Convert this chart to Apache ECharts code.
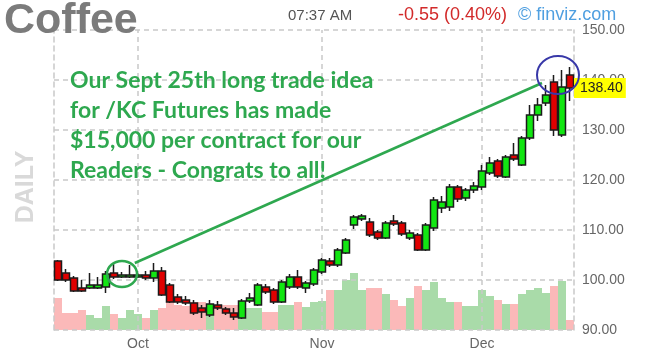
<!DOCTYPE html>
<html><head><meta charset="utf-8">
<script src="https://cdn.jsdelivr.net/npm/echarts@6/dist/echarts.min.js"></script>
<style>html,body{margin:0;padding:0;background:#fff}#c{width:646px;height:356px}</style>
</head><body><div id="c"></div>
<script>
const dates = ['9/17','9/18','9/19','9/20','9/23','9/24','9/25','9/26','9/27','9/30',
  '10/1','10/2','10/3','10/4','10/7','10/8','10/9','10/10','10/11','10/14','10/15','10/16','10/17','10/18',
  '10/21','10/22','10/23','10/24','10/25','10/28','10/29','10/30','10/31',
  '11/1','11/4','11/5','11/6','11/7','11/8','11/11','11/12','11/13','11/14','11/15','11/18','11/19','11/20',
  '11/21','11/22','11/25','11/26','11/27','11/29',
  '12/2','12/3','12/4','12/5','12/6','12/9','12/10','12/11','12/12','12/13','12/16','12/17'];
const open  = [103.8,101.4,100.4,98.4,98.4,98.4,98.6,101.4,100.6,100.6,
  100.6,101.0,100.4,101.8,99.0,96.6,96.0,95.4,94.4,93.0,95.0,94.2,93.4,92.4,
  95.8,95.0,98.6,98.0,95.6,98.6,100.6,98.4,99.2,
  101.6,103.8,103.0,105.4,111.0,112.2,111.6,109.6,108.4,111.8,111.4,108.4,109.0,106.0,
  110.4,114.4,114.6,118.6,116.4,118.0,
  118.6,121.4,123.8,120.6,125.0,123.0,128.4,133.0,135.4,139.6,129.0,141.0];
const close = [100.0,100.0,97.8,97.8,99.0,99.0,101.2,100.6,101.0,101.0,
  101.0,100.4,101.8,97.0,95.6,95.6,95.4,93.4,93.6,95.2,94.4,93.4,92.6,95.8,
  96.4,99.0,97.6,95.6,99.6,100.6,98.6,99.4,102.0,
  104.0,103.0,106.0,108.0,112.6,112.8,109.0,108.4,111.4,111.2,109.2,109.4,106.0,111.0,
  116.0,115.6,118.6,116.2,118.0,118.8,
  121.8,123.4,120.8,124.6,124.2,128.4,133.0,135.0,137.0,130.0,138.6,138.4];
const low   = [99.8,99.6,97.6,97.6,98.2,98.2,97.4,100.2,100.4,100.4,
  100.4,100.0,99.6,96.8,95.4,95.2,95.0,93.0,92.4,92.6,94.0,93.0,92.0,92.2,
  95.4,94.8,97.2,95.2,95.4,98.2,98.2,97.4,98.8,
  101.2,102.6,102.6,105.2,110.2,111.8,108.6,108.0,108.2,110.8,108.8,108.0,105.8,105.8,
  109.8,113.4,113.8,115.6,115.8,117.4,
  118.0,121.0,120.4,120.4,123.8,122.8,128.0,131.8,134.8,128.8,128.6,135.8];
const high  = [104.0,102.2,100.8,100.0,101.4,100.6,101.8,103.4,101.6,103.0,
  101.4,101.8,103.4,102.6,99.4,97.2,96.8,96.0,95.0,96.0,95.8,94.6,94.4,96.2,
  97.4,99.4,99.2,98.4,100.0,101.2,102.0,99.8,102.4,
  104.4,104.4,106.4,108.4,113.0,113.2,112.4,110.0,111.8,113.0,111.8,110.0,109.4,111.4,
  116.6,116.8,119.2,119.0,118.4,119.6,
  123.0,124.6,124.2,125.0,127.4,128.8,135.0,136.4,139.0,141.0,142.0,142.6];
const volume = [32,17,17,20,15,12,24,16,12,20,
  16,12,20,22,28,25,24,28,28,17,25,25,25,22,
  22,22,18,18,25,25,28,23,28,
  29,40,40,50,57,40,42,42,36,30,24,32,44,40,
  48,32,28,28,24,24,
  40,34,30,26,26,36,40,42,37,44,49,10];
const yTicks = [90, 150, 10];            // min, max, step
const monthDates = ['10/1','11/1','12/2'];
const monthLabels = ['Oct','Nov','Dec'];
const lastPrice = 138.40;
const noteLines = ['Our Sept 25th long trade idea','for /KC Futures has made','$15,000 per contract for our','Readers - Congrats to all!'];
// annotation anchors in data units [category index, price]
const greenCircleAt = [8, 101.2];
const blueCircleAt = [62.5, 141.0];
const arrowFrom = [9.6, 103.4];
const arrowTo = [60.5, 139.4];

const chart = echarts.init(document.getElementById('c'));
const grid = '#c9c9c9';
const UP = '#12e612', DOWN = '#e00000';
chart.setOption({
  animation: false,
  backgroundColor: '#fff',
  grid: { left: 54, right: 72, top: 30, bottom: 26 },
  xAxis: {
    type: 'category', data: dates, boundaryGap: true,
    axisLine: { show: false }, axisTick: { show: false }, splitLine: { show: false },
    axisLabel: {
      interval: (i, v) => monthDates.indexOf(v) >= 0,
      formatter: v => monthLabels[monthDates.indexOf(v)] || '',
      color: '#666', fontSize: 14, fontFamily: 'Liberation Sans', margin: 7
    }
  },
  yAxis: [
    { type: 'value', position: 'right', min: yTicks[0], max: yTicks[1], interval: yTicks[2], z: 3,
      axisLine: { show: true, lineStyle: { color: grid, type: [5, 4], width: 1.5 } },
      axisTick: { show: false },
      axisLabel: { formatter: v => v.toFixed(2), color: '#666', fontSize: 14, fontFamily: 'Liberation Sans', margin: 8 },
      splitLine: { show: true, lineStyle: { color: grid, type: [5, 4], width: 1.5 } } },
    { type: 'value', position: 'left', min: yTicks[0], max: yTicks[1], z: 3,
      axisLine: { show: true, lineStyle: { color: grid, type: [5, 4], width: 1.5 } },
      axisTick: { show: false }, axisLabel: { show: false }, splitLine: { show: false } },
    { type: 'value', min: 0, max: 300, show: false }
  ],
  series: [
    { type: 'bar', yAxisIndex: 2, z: 1, barCategoryGap: '0%', silent: true,
      data: volume.map((v, i) => ({ value: v, itemStyle: { color: close[i] >= open[i] ? '#a9dba9' : '#fbb9b9' } })),
      markLine: { silent: true, z: 2, symbol: ['none', 'none'], label: { show: false },
        lineStyle: { color: grid, type: [5, 4], width: 1.5 },
        data: monthDates.map(d => ({ xAxis: d })) } },
    { type: 'candlestick', yAxisIndex: 0, z: 6, barWidth: 7,
      data: dates.map((d, i) => [open[i], close[i], low[i], high[i]]),
      itemStyle: { color: UP, color0: DOWN, borderColor: '#1b1b1b', borderColor0: '#1b1b1b', borderWidth: 1.5 },
      markLine: { silent: true, z: 9, symbol: ['none', 'none'],
        lineStyle: { color: 'rgba(0,0,0,0)', width: 1, type: 'solid' },
        label: { show: true, position: 'end', formatter: () => lastPrice.toFixed(2), backgroundColor: '#ffff00',
          color: '#222', fontSize: 14, fontFamily: 'Liberation Sans', padding: [4, 3, 2, 6], distance: 0 },
        data: [{ yAxis: lastPrice }] } }
  ]
});

function px(pt) {
  const a = chart.convertToPixel({ seriesIndex: 1 }, [0, pt[1]]);
  const b = chart.convertToPixel({ seriesIndex: 1 }, [1, pt[1]]);
  return [a[0] + (b[0] - a[0]) * pt[0], a[1]];
}
const g1 = px(greenCircleAt), g2 = px(blueCircleAt), l1 = px(arrowFrom), l2 = px(arrowTo);
const green = '#2ea84f';
chart.setOption({
  graphic: [
    { type: 'text', left: 4, top: 0, z: 20, style: { text: 'Coffee', font: 'bold 43px Liberation Sans', fill: '#7b7b7b' } },
    { type: 'text', z: 20, style: { x: 288, y: 16, text: '07:37 AM', font: '15px Liberation Sans', fill: '#555', verticalAlign: 'middle' } },
    { type: 'text', z: 20, style: { x: 398, y: 15, text: '-0.55 (0.40%)', font: '18px Liberation Sans', fill: '#d22a2a', verticalAlign: 'middle' } },
    { type: 'text', z: 20, style: { x: 518, y: 15, text: '\u00a9 finviz.com', font: '18px Liberation Sans', fill: '#4f9fe0', verticalAlign: 'middle' } },
    { type: 'text', z: 20, x: 26, y: 187, rotation: Math.PI / 2,
      style: { x: 0, y: 0, text: 'DAILY', font: 'bold 25px Liberation Sans', fill: '#d9d9d9', align: 'center', verticalAlign: 'middle' } },
    ...noteLines.map((t, i) => ({ type: 'text', z: 20,
      style: { x: 70, y: 81 + i * 30, text: t, font: 'bold 23px Lato', fill: green, verticalAlign: 'middle' } })),
    { type: 'line', z: 20, shape: { x1: l1[0], y1: l1[1], x2: l2[0], y2: l2[1] }, style: { stroke: green, lineWidth: 2.5 } },
    { type: 'ellipse', z: 20, shape: { cx: g1[0], cy: g1[1], rx: 15, ry: 13 }, style: { fill: 'none', stroke: green, lineWidth: 2.5 } },
    { type: 'ellipse', z: 20, shape: { cx: g2[0], cy: g2[1], rx: 21, ry: 19 }, style: { fill: 'none', stroke: '#3838a8', lineWidth: 2 } }
  ]
});
</script></body></html>
